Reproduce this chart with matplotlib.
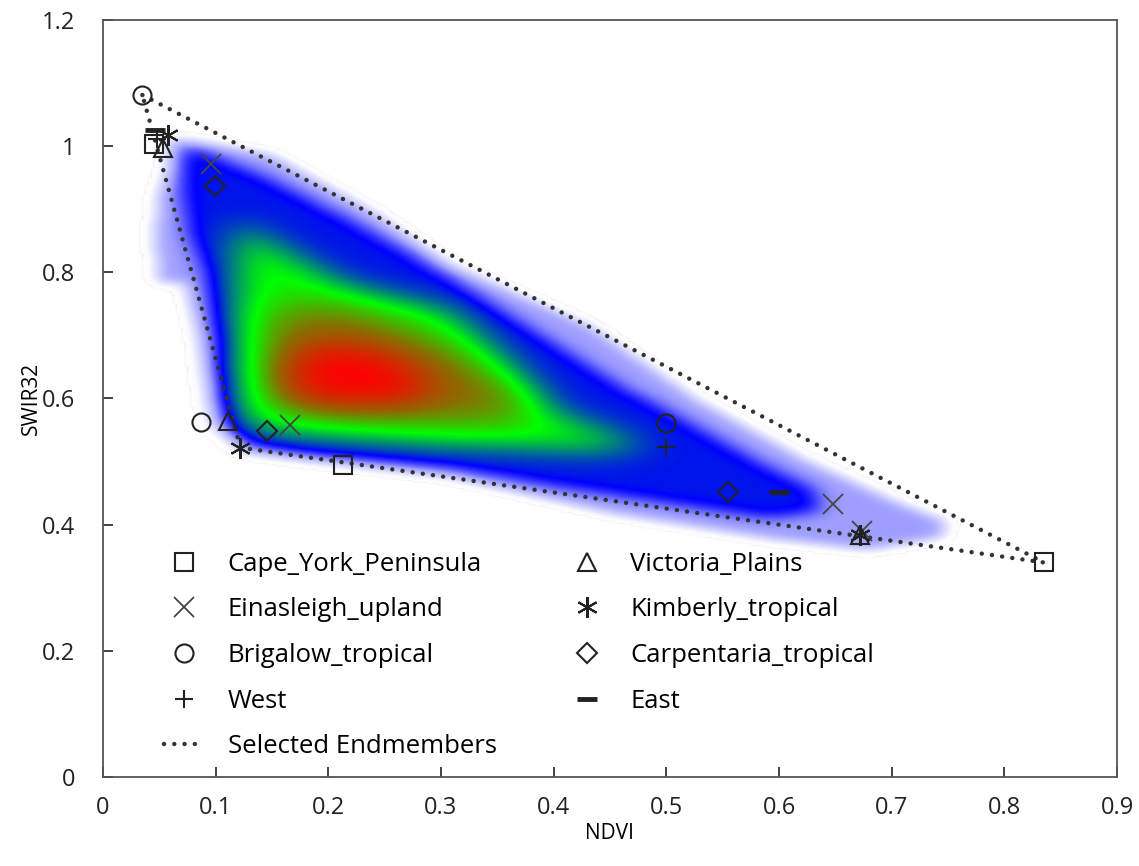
import numpy as np
import matplotlib.pyplot as plt
from matplotlib.path import Path
from matplotlib.colors import LinearSegmentedColormap

# endmember candidates per region (NDVI, SWIR32)
cape_york_x = [0.045, 0.213, 0.835]
cape_york_y = [1.003, 0.495, 0.340]
victoria_x = [0.053, 0.111, 0.672]
victoria_y = [0.997, 0.565, 0.383]
einasleigh_x = [0.096, 0.166, 0.648, 0.674]
einasleigh_y = [0.972, 0.558, 0.433, 0.390]
kimberly_x = [0.058, 0.122, 0.672]
kimberly_y = [1.018, 0.522, 0.384]
brigalow_x = [0.035, 0.087, 0.500]
brigalow_y = [1.081, 0.563, 0.561]
carpentaria_x = [0.099, 0.146, 0.555]
carpentaria_y = [0.937, 0.548, 0.451]
west_x = [0.048, 0.500]
west_y = [1.012, 0.523]
east_x = [0.046, 0.600]
east_y = [1.026, 0.451]

# selected endmembers (triangle)
endm_x = [0.035, 0.835, 0.122, 0.035]
endm_y = [1.081, 0.340, 0.522, 1.081]

# pixel density outlines, outer -> inner
dens_outer = [(0.060, 1.010), (0.100, 1.000), (0.145, 0.985), (0.232, 0.900), (0.306, 0.810),
              (0.430, 0.713), (0.530, 0.590), (0.618, 0.503), (0.707, 0.430), (0.745, 0.405),
              (0.742, 0.380), (0.678, 0.360), (0.590, 0.378), (0.450, 0.418), (0.306, 0.476),
              (0.180, 0.503), (0.125, 0.515), (0.098, 0.560), (0.085, 0.700), (0.072, 0.785),
              (0.050, 0.785), (0.046, 0.850), (0.049, 0.920), (0.058, 0.965)]
dens_blue = [(0.074, 1.000), (0.145, 0.948), (0.232, 0.868), (0.306, 0.790), (0.400, 0.685),
             (0.459, 0.618), (0.530, 0.550), (0.590, 0.490), (0.630, 0.455), (0.635, 0.420),
             (0.590, 0.410), (0.530, 0.425), (0.400, 0.460), (0.306, 0.490), (0.180, 0.512),
             (0.132, 0.525), (0.112, 0.550), (0.104, 0.600), (0.100, 0.700), (0.090, 0.800),
             (0.075, 0.860), (0.068, 0.930), (0.068, 0.975)]
dens_green = [(0.115, 0.885), (0.145, 0.850), (0.218, 0.777), (0.306, 0.740), (0.341, 0.685),
              (0.400, 0.578), (0.460, 0.538), (0.485, 0.522), (0.440, 0.515), (0.300, 0.525),
              (0.180, 0.540), (0.135, 0.550), (0.122, 0.570), (0.118, 0.700), (0.115, 0.800)]
dens_olive = [(0.140, 0.725), (0.180, 0.755), (0.235, 0.735), (0.305, 0.685), (0.375, 0.605),
              (0.365, 0.562), (0.280, 0.562), (0.180, 0.572), (0.140, 0.600)]
dens_red = [(0.160, 0.655), (0.190, 0.690), (0.240, 0.680), (0.285, 0.640), (0.290, 0.600),
            (0.240, 0.585), (0.180, 0.590), (0.160, 0.615)]
dens_levels = [0.20, 0.22, 0.25, 0.15, 0.18]
dens_sigma = [3, 4, 8, 10, 9]


def smooth(a, s):
    k = np.arange(-3 * s, 3 * s + 1)
    k = np.exp(-0.5 * (k / s) ** 2)
    k /= k.sum()
    a = np.apply_along_axis(lambda r: np.convolve(r, k, mode='same'), 1, a)
    return np.apply_along_axis(lambda c: np.convolve(c, k, mode='same'), 0, a)


gx = np.arange(0.0, 0.8, 0.0025)
gy = np.arange(0.3, 1.1, 0.0025)
XX, YY = np.meshgrid(gx, gy)
pts = np.column_stack([XX.ravel(), YY.ravel()])
dens = np.zeros_like(XX)
for poly, lev, s in zip([dens_outer, dens_blue, dens_green, dens_olive, dens_red],
                        dens_levels, dens_sigma):
    inside = Path(poly).contains_points(pts).reshape(XX.shape).astype(float)
    dens += lev * smooth(inside, s)

cmap = LinearSegmentedColormap.from_list('dens', [
    (0.00, (1, 1, 1, 0)),
    (0.04, (0.92, 0.92, 1.0, 1)),
    (0.20, (0.62, 0.62, 1.0, 1)),
    (0.40, (0.0, 0.0, 1.0, 1)),
    (0.66, (0.0, 1.0, 0.0, 1)),
    (0.82, (0.55, 0.42, 0.0, 1)),
    (1.00, (1.0, 0.0, 0.0, 1)),
])

plt.rcParams['font.family'] = ['Open Sans', 'DejaVu Sans']
fig = plt.figure(figsize=(11.39, 8.66), dpi=100)
ax = fig.add_axes([0.0904, 0.1028, 0.8903, 0.8742])

ax.imshow(np.ma.masked_less(dens, 0.005), extent=(gx[0], gx[-1] + 0.0025, gy[0], gy[-1] + 0.0025),
          origin='lower', cmap=cmap, vmin=0, vmax=1, aspect='auto', interpolation='bilinear', zorder=1)

k = '#222222'
ms = 13
ax.plot(cape_york_x, cape_york_y, 's', ms=ms, mfc='none', mec=k, mew=1.5, label='Cape_York_Peninsula', zorder=3)
ax.plot(einasleigh_x, einasleigh_y, 'x', ms=ms + 1, mec='#444444', mew=1.3, label='Einasleigh_upland', zorder=3)
ax.plot(brigalow_x, brigalow_y, 'o', ms=ms, mfc='none', mec=k, mew=1.5, label='Brigalow_tropical', zorder=3)
ax.plot(west_x, west_y, '+', ms=ms, mec=k, mew=1.5, label='West', zorder=3)
ax.plot(endm_x, endm_y, color='#333333', lw=3.2, ls=(0, (0.01, 2.3)), dash_capstyle='round',
        label='Selected Endmembers', zorder=2)
ax.plot(victoria_x, victoria_y, '^', ms=ms, mfc='none', mec=k, mew=1.5, label='Victoria_Plains', zorder=3)
ax.plot(kimberly_x, kimberly_y, marker=(6, 2, 0), ls='none', ms=ms + 2, mec=k, mew=1.5, label='Kimberly_tropical', zorder=3)
ax.plot(carpentaria_x, carpentaria_y, 'D', ms=ms - 3, mfc='none', mec=k, mew=1.5, label='Carpentaria_tropical', zorder=3)
ax.plot(east_x, east_y, '_', ms=ms + 2, mec=k, mew=3.5, label='East', zorder=3)

ax.set_xlim(0, 0.9)
ax.set_ylim(0, 1.2)
ax.set_xticks(np.arange(0, 0.91, 0.1))
ax.set_xticklabels(['0', '0.1', '0.2', '0.3', '0.4', '0.5', '0.6', '0.7', '0.8', '0.9'])
ax.set_yticks(np.arange(0, 1.21, 0.2))
ax.set_yticklabels(['0', '0.2', '0.4', '0.6', '0.8', '1', '1.2'])
ax.tick_params(direction='in', length=7, width=1.2, labelsize=17, colors='#222222', pad=14)
ax.tick_params(axis='y', pad=20)
for sp in ax.spines.values():
    sp.set_color('#555555')
    sp.set_linewidth(1.3)
ax.set_xlabel('NDVI', fontsize=15, labelpad=2)
ax.set_ylabel('SWIR32', fontsize=15, labelpad=0)

ax.legend(loc='lower left', bbox_to_anchor=(0.037, -0.007), ncol=2, frameon=False, fontsize=18.5,
          labelspacing=0.8, handlelength=1.6, columnspacing=2.7, handletextpad=0.9)

fig.savefig('out.png', dpi=100)
